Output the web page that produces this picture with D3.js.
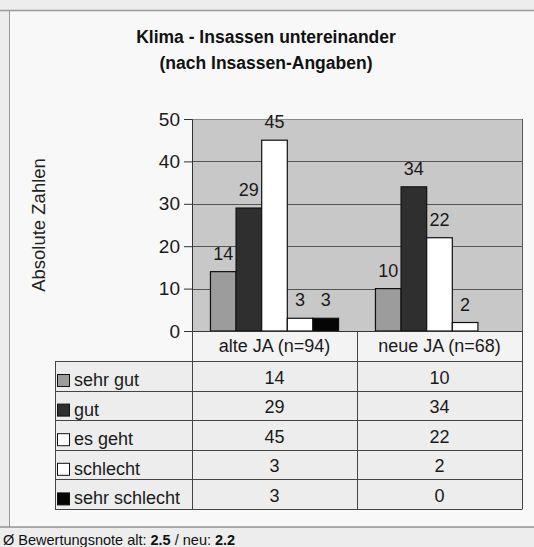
<!DOCTYPE html>
<html>
<head>
<meta charset="utf-8">
<script src="https://cdn.jsdelivr.net/npm/d3@7"></script>
<style>
  html, body { margin: 0; padding: 0; background: #ededed; }
  svg { display: block; font-family: Arial, "Liberation Sans", sans-serif; }
</style>
</head>
<body>
<svg id="chart" width="534" height="547"></svg>
<script>
// ---- data ----
const categories = ["alte JA (n=94)", "neue JA (n=68)"];
const seriesNames = ["sehr gut", "gut", "es geht", "schlecht", "sehr schlecht"];
const sehrGut = [14, 10];
const gut = [29, 34];
const esGeht = [45, 22];
const schlecht = [3, 2];
const sehrSchlecht = [3, 0];
const yTicks = [0, 10, 20, 30, 40, 50];
const seriesColors = ["#9c9c9c", "#2f2f2f", "#ffffff", "#ffffff", "#050505"];
const titleLines = ["Klima - Insassen untereinander", "(nach Insassen-Angaben)"];
const yTitle = "Absolute Zahlen";
const footerParts = [["Ø Bewertungsnote alt: ", false], ["2.5", true], [" / neu: ", false], ["2.2", true]];

const seriesValues = [sehrGut, gut, esGeht, schlecht, sehrSchlecht];

// ---- layout ----
const svg = d3.select("#chart");
const plotL = 192, plotR = 522, plotT = 119, plotB = 331;
const tableL = 55;
const headerBottom = 361;
const rowH = 29.6;
const fs = 18;

// frame
svg.append("rect").attr("x", 9).attr("y", 10).attr("width", 525).attr("height", 517)
  .attr("fill", "#f8f8f8");
svg.append("line").attr("x1", 0).attr("x2", 534).attr("y1", 10.5).attr("y2", 10.5)
  .attr("stroke", "#9a9a9a").attr("stroke-width", 1.5);
svg.append("line").attr("x1", 9.5).attr("x2", 9.5).attr("y1", 10).attr("y2", 527)
  .attr("stroke", "#9a9a9a").attr("stroke-width", 1);
svg.append("line").attr("x1", 0).attr("x2", 534).attr("y1", 527).attr("y2", 527)
  .attr("stroke", "#666").attr("stroke-width", 1.2);

// title
svg.append("g").selectAll("text").data(titleLines).join("text")
  .attr("x", 266).attr("y", (d, i) => 43 + i * 25.5)
  .attr("text-anchor", "middle").attr("font-weight", "bold").attr("font-size", 17.5)
  .attr("fill", "#111").text(d => d);

// scales
const x0 = d3.scaleBand().domain(categories).range([plotL, plotR]).padding(0);
const x1 = d3.scaleBand().domain(seriesNames).range([0, x0.bandwidth()])
  .paddingInner(0).paddingOuter(0.72);
const y = d3.scaleLinear().domain([0, 50]).range([plotB, plotT]);

// plot background
svg.append("rect").attr("x", plotL).attr("y", plotT).attr("width", plotR - plotL)
  .attr("height", plotB - plotT).attr("fill", "#c8c8c8");

// gridlines
svg.append("g").selectAll("line").data(yTicks.filter(t => t > 0)).join("line")
  .attr("x1", plotL).attr("x2", plotR)
  .attr("y1", d => Math.round(y(d)) + 0.5).attr("y2", d => Math.round(y(d)) + 0.5)
  .attr("stroke", d => d === 50 ? "#8a8a8a" : "#555").attr("stroke-width", 1);
// right border
svg.append("line").attr("x1", plotR + 0.5).attr("x2", plotR + 0.5).attr("y1", plotT).attr("y2", plotB)
  .attr("stroke", "#555");

// bars
const flat = [];
seriesNames.forEach((s, si) => categories.forEach((c, ci) => {
  flat.push({ s, si, c, v: seriesValues[si][ci] });
}));
svg.append("g").selectAll("rect").data(flat.filter(d => d.v > 0)).join("rect")
  .attr("x", d => x0(d.c) + x1(d.s))
  .attr("y", d => y(d.v))
  .attr("width", x1.bandwidth())
  .attr("height", d => y(0) - y(d.v))
  .attr("fill", d => seriesColors[d.si])
  .attr("stroke", "#111").attr("stroke-width", 1.2);

// value labels
svg.append("g").selectAll("text").data(flat.filter(d => d.v > 0)).join("text")
  .attr("x", d => x0(d.c) + x1(d.s) + x1.bandwidth() / 2)
  .attr("y", d => y(d.v) - 12)
  .attr("text-anchor", "middle").attr("font-size", fs).attr("fill", "#1a1a1a")
  .text(d => d.v);

// y axis
const yAxis = d3.axisLeft(y).tickValues(yTicks).tickSize(8).tickPadding(4);
const ga = svg.append("g").attr("transform", `translate(${plotL},0)`).call(yAxis);
ga.select(".domain").attr("stroke", "#333");
ga.selectAll(".tick line").attr("stroke", "#333");
ga.selectAll(".tick text").attr("font-size", 19).attr("fill", "#1a1a1a")
  .attr("font-family", "Arial, 'Liberation Sans', sans-serif");

// y title
svg.append("text").attr("transform", "translate(45,225) rotate(-90)")
  .attr("text-anchor", "middle").attr("font-size", 18.5).attr("fill", "#222").text(yTitle);

// ---- data table ----
const tbl = svg.append("g");
const tableBottom = headerBottom + rowH * seriesNames.length;
tbl.append("rect").attr("x", tableL).attr("y", headerBottom).attr("width", plotR - tableL)
  .attr("height", tableBottom - headerBottom).attr("fill", "#ededed");
tbl.append("rect").attr("x", plotL).attr("y", plotB).attr("width", plotR - plotL)
  .attr("height", headerBottom - plotB).attr("fill", "#f3f3f3");

const hLines = d3.range(seriesNames.length + 1).map(i => headerBottom + i * rowH);
tbl.selectAll("line.h").data(hLines).join("line").attr("class", "h")
  .attr("x1", tableL).attr("x2", plotR)
  .attr("y1", d => Math.round(d) + 0.5).attr("y2", d => Math.round(d) + 0.5)
  .attr("stroke", "#444");
tbl.append("line").attr("x1", plotL).attr("x2", plotR).attr("y1", plotB + 0.5).attr("y2", plotB + 0.5)
  .attr("stroke", "#333");
const vLines = [plotL, x0(categories[1]), plotR];
tbl.selectAll("line.v").data(vLines).join("line").attr("class", "v")
  .attr("x1", d => Math.round(d) + 0.5).attr("x2", d => Math.round(d) + 0.5)
  .attr("y1", plotB).attr("y2", Math.round(tableBottom) + 0.5)
  .attr("stroke", "#444");
tbl.append("line").attr("x1", tableL + 0.5).attr("x2", tableL + 0.5)
  .attr("y1", headerBottom).attr("y2", Math.round(tableBottom) + 0.5).attr("stroke", "#444");

tbl.selectAll("text.cat").data(categories).join("text").attr("class", "cat")
  .attr("x", d => x0(d) + x0.bandwidth() / 2).attr("y", 352)
  .attr("text-anchor", "middle").attr("font-size", fs).attr("fill", "#1a1a1a").text(d => d);

seriesNames.forEach((s, si) => {
  const top = headerBottom + si * rowH;
  tbl.append("rect").attr("x", 57.5).attr("y", top + 13.5).attr("width", 12).attr("height", 12)
    .attr("fill", seriesColors[si]).attr("stroke", "#111").attr("stroke-width", 1);
  tbl.append("text").attr("x", 74).attr("y", top + 25).attr("font-size", fs)
    .attr("fill", "#1a1a1a").text(s);
  categories.forEach((c, ci) => {
    tbl.append("text").attr("x", x0(c) + x0.bandwidth() / 2).attr("y", top + 22.5)
      .attr("text-anchor", "middle").attr("font-size", fs).attr("fill", "#1a1a1a")
      .text(seriesValues[si][ci]);
  });
});

// footer
const ft = svg.append("text").attr("x", 3).attr("y", 545).attr("font-size", 14.5).attr("fill", "#111");
ft.selectAll("tspan").data(footerParts).join("tspan")
  .attr("font-weight", d => d[1] ? "bold" : "normal").text(d => d[0]);
</script>
</body>
</html>
